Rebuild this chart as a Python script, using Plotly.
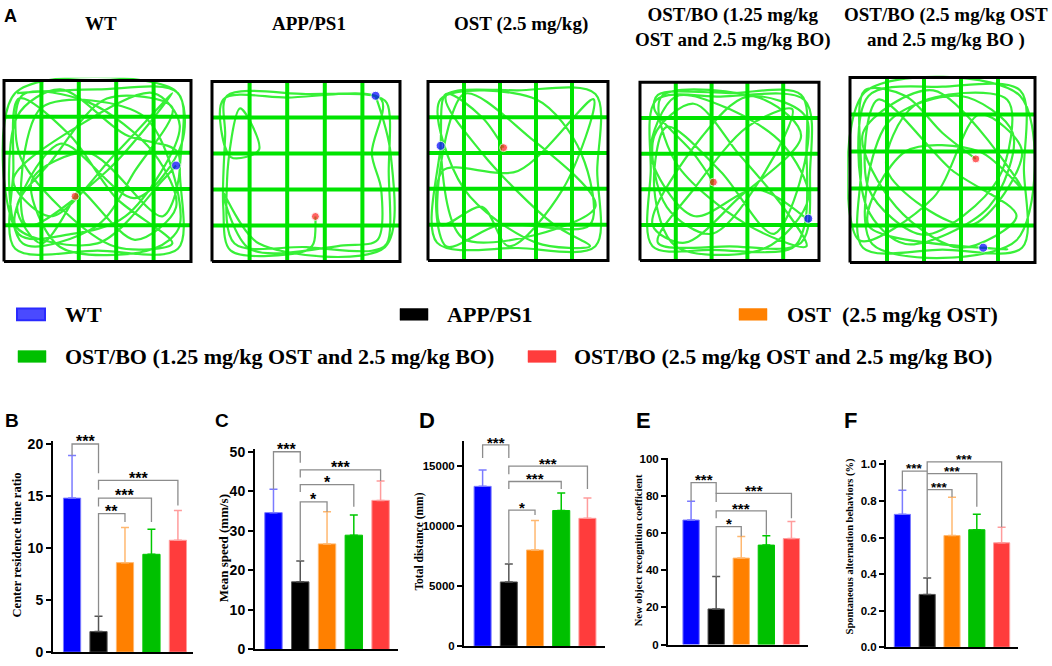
import plotly.graph_objects as go

W, H = 1052, 666

# groups (legend order) and maze titles
GROUPS = [
    "WT",
    "APP/PS1",
    "OST\u00a0 (2.5 mg/kg OST)",
    "OST/BO (1.25 mg/kg OST and 2.5 mg/kg BO)",
    "OST/BO (2.5 mg/kg OST and 2.5 mg/kg BO)",
]
MAZE_TITLES = [
    "WT",
    "APP/PS1",
    "OST (2.5 mg/kg)",
    "OST/BO (1.25 mg/kg<br>OST and 2.5 mg/kg BO)",
    "OST/BO (2.5 mg/kg OST<br>and 2.5 mg/kg BO )",
]

# B-F: mean and upper error (SD) per group
CENTER_TIME = [14.8, 1.97, 8.6, 9.4, 10.75]
CENTER_TIME_ERR = [4.1, 1.48, 3.37, 2.4, 2.85]
SPEED = [34.6, 17.1, 26.7, 28.9, 37.7]
SPEED_ERR = [5.9, 5.3, 8.1, 5.1, 4.9]
DISTANCE = [13315, 5353, 8016, 11304, 10652]
DISTANCE_ERR = [1359, 1495, 2446, 1468, 1685]
NOR = [67.1, 19.2, 46.6, 53.6, 57.1]
NOR_ERR = [10.1, 17.5, 11.7, 5.1, 9.2]
ALTERNATION = [0.727, 0.289, 0.611, 0.643, 0.571]
ALTERNATION_ERR = [0.132, 0.09, 0.21, 0.084, 0.086]

# significance brackets: (group i, group j, label)
COMPARISONS = [(0, 1), (1, 4), (1, 3), (1, 2)]
SIG_B = ["***", "***", "***", "**"]
SIG_C = ["***", "***", "*", "*"]
SIG_D = ["***", "***", "***", "*"]
SIG_E = ["***", "***", "***", "*"]
SIG_F = ["***", "***", "***", "***"]

# open-field tracks, fractions of the arena (x right, y up)
WT_TRACK = [(0.07, 0.93), (0.5, 0.95), (0.93, 0.93), (0.94, 0.5), (0.93, 0.07), (0.5, 0.06), (0.06, 0.07),
            (0.05, 0.5), (0.08, 0.9), (0.35, 0.7), (0.6, 0.35), (0.9, 0.1), (0.6, 0.08), (0.3, 0.3),
            (0.08, 0.6), (0.1, 0.92), (0.45, 0.88), (0.8, 0.6), (0.92, 0.3), (0.7, 0.12), (0.4, 0.4),
            (0.38, 0.36), (0.2, 0.1), (0.07, 0.3), (0.25, 0.55), (0.55, 0.9), (0.9, 0.85), (0.7, 0.5),
            (0.5, 0.2), (0.1, 0.1), (0.07, 0.8), (0.3, 0.95), (0.65, 0.7), (0.93, 0.6), (0.85, 0.25),
            (0.45, 0.6), (0.15, 0.45), (0.3, 0.08), (0.8, 0.07), (0.94, 0.2), (0.75, 0.8), (0.2, 0.85),
            (0.12, 0.2), (0.55, 0.5), (0.9, 0.93), (0.6, 0.6), (0.25, 0.25), (0.05, 0.45), (0.4, 0.75),
            (0.8, 0.93), (0.94, 0.75), (0.65, 0.25), (0.35, 0.15), (0.08, 0.15), (0.06, 0.93),
            (0.92, 0.94), (0.95, 0.65), (0.7, 0.35), (0.3, 0.65), (0.06, 0.2), (0.5, 0.1), (0.85, 0.45),
            (0.92, 0.53)]
APP_TRACK = [(0.55, 0.25), (0.54, 0.1), (0.5, 0.06), (0.1, 0.06), (0.06, 0.3), (0.07, 0.7), (0.08, 0.92),
             (0.5, 0.93), (0.86, 0.92), (0.93, 0.88), (0.94, 0.5), (0.93, 0.1), (0.85, 0.06), (0.5, 0.08),
             (0.12, 0.1), (0.08, 0.45), (0.15, 0.85), (0.25, 0.62), (0.1, 0.58), (0.06, 0.9), (0.4, 0.91),
             (0.9, 0.9), (0.85, 0.6), (0.9, 0.4), (0.88, 0.12), (0.7, 0.09), (0.2, 0.07), (0.06, 0.38),
             (0.25, 0.1), (0.92, 0.08), (0.95, 0.6), (0.87, 0.92)]
OST_TRACK = [(0.42, 0.63), (0.3, 0.8), (0.1, 0.93), (0.07, 0.64), (0.05, 0.1), (0.5, 0.07), (0.93, 0.08),
             (0.94, 0.5), (0.93, 0.93), (0.5, 0.95), (0.1, 0.92), (0.3, 0.6), (0.7, 0.2), (0.9, 0.08),
             (0.6, 0.1), (0.2, 0.4), (0.07, 0.9), (0.6, 0.9), (0.85, 0.6), (0.9, 0.2), (0.4, 0.2),
             (0.1, 0.08), (0.08, 0.5), (0.5, 0.5), (0.92, 0.9), (0.75, 0.4), (0.45, 0.08), (0.3, 0.3),
             (0.07, 0.2), (0.2, 0.93), (0.55, 0.7), (0.93, 0.3), (0.2, 0.12), (0.07, 0.64)]
BO1_TRACK = [(0.41, 0.44), (0.3, 0.6), (0.08, 0.85), (0.1, 0.93), (0.5, 0.94), (0.9, 0.93), (0.93, 0.6),
             (0.92, 0.2), (0.85, 0.07), (0.4, 0.06), (0.07, 0.08), (0.06, 0.5), (0.09, 0.9), (0.45, 0.92),
             (0.92, 0.9), (0.95, 0.5), (0.9, 0.1), (0.5, 0.08), (0.1, 0.1), (0.3, 0.4), (0.6, 0.75),
             (0.85, 0.85), (0.7, 0.5), (0.4, 0.15), (0.15, 0.3), (0.08, 0.7), (0.3, 0.88), (0.55, 0.6),
             (0.8, 0.3), (0.93, 0.08), (0.6, 0.2), (0.2, 0.55), (0.12, 0.92), (0.7, 0.9), (0.9, 0.7),
             (0.55, 0.35), (0.25, 0.1), (0.07, 0.2), (0.35, 0.7), (0.6, 0.92), (0.93, 0.8), (0.75, 0.15),
             (0.45, 0.5), (0.15, 0.75), (0.08, 0.4), (0.2, 0.08), (0.7, 0.07), (0.94, 0.35), (0.8, 0.65),
             (0.5, 0.85), (0.2, 0.92), (0.06, 0.6), (0.3, 0.25), (0.65, 0.4), (0.93, 0.235)]
BO2_TRACK = [(0.68, 0.56), (0.5, 0.7), (0.3, 0.9), (0.08, 0.93), (0.06, 0.5), (0.07, 0.08), (0.5, 0.07),
             (0.93, 0.08), (0.94, 0.5), (0.92, 0.93), (0.5, 0.95), (0.1, 0.9), (0.09, 0.3), (0.3, 0.1),
             (0.75, 0.3), (0.88, 0.7), (0.6, 0.9), (0.2, 0.75), (0.12, 0.1), (0.9, 0.12), (0.92, 0.9),
             (0.08, 0.92), (0.05, 0.12), (0.45, 0.35), (0.7, 0.8), (0.93, 0.6), (0.65, 0.2), (0.2, 0.5),
             (0.35, 0.85), (0.85, 0.88), (0.8, 0.45), (0.4, 0.15), (0.1, 0.4), (0.15, 0.88), (0.55, 0.5),
             (0.9, 0.25), (0.6, 0.08), (0.25, 0.3), (0.07, 0.7), (0.45, 0.93), (0.93, 0.4), (0.7, 0.6),
             (0.3, 0.6), (0.1, 0.2), (0.85, 0.07), (0.72, 0.08)]
TRACKS = [WT_TRACK, APP_TRACK, OST_TRACK, BO1_TRACK, BO2_TRACK]
RED_DOTS = [(0.38, 0.36), (0.55, 0.25), (0.42, 0.63), (0.41, 0.44), (0.68, 0.56)]
BLUE_DOTS = [(0.92, 0.53), (0.87, 0.92), (0.07, 0.64), (0.94, 0.235), (0.72, 0.08)]
GRID_FRACS = [0.2, 0.4, 0.6, 0.8]

BAR_COLORS = ["#0000ff", "#000000", "#ff8000", "#00c000", "#ff3c3c"]
ERR_COLORS = ["#7b7bff", "#555555", "#ffb870", "#00c800", "#ff9c9c"]
SERIF = "Liberation Serif"
SANS = "Liberation Sans"


def dom_x(a, b):
    return [max(a / W, 0.0), min(b / W, 1.0)]


def dom_y(top, bottom):
    return [max(1 - bottom / H, 0.0), min(1 - top / H, 1.0)]


def axis_names(n):
    return ("x" if n == 1 else f"x{n}", "y" if n == 1 else f"y{n}",
            "xaxis" if n == 1 else f"xaxis{n}", "yaxis" if n == 1 else f"yaxis{n}")


fig = go.Figure()
layout_axes = {}
annotations = []
shapes = []

# ---- panel A: open-field tracks ----
MAZE_BOX_PX = [(4, 191, 76, 261), (212, 400, 77, 261), (428, 608, 77, 260),
               (640, 819, 78, 260), (850, 1035, 73, 262)]
PAD = 0.015
for k, (x0, x1, y0, y1) in enumerate(MAZE_BOX_PX):
    n = k + 1
    xa, ya, xkey, ykey = axis_names(n)
    pw, ph = (x1 - x0) * PAD, (y1 - y0) * PAD
    layout_axes[xkey] = dict(domain=dom_x(x0 - pw, x1 + pw), range=[-PAD, 1 + PAD], visible=False,
                             anchor=ya)
    layout_axes[ykey] = dict(domain=dom_y(y0 - ph, y1 + ph), range=[-PAD, 1 + PAD], visible=False,
                             anchor=xa)
    track = TRACKS[k]
    fig.add_trace(go.Scatter(x=[p[0] for p in track], y=[p[1] for p in track], mode="lines",
                             line=dict(color="#38f038", width=2.2, shape="spline", smoothing=0.9),
                             xaxis=xa, yaxis=ya, hoverinfo="skip", showlegend=False))
    gx, gy = [], []
    for f in GRID_FRACS:
        gx += [f, f, None, 0, 1, None]
        gy += [0, 1, None, f, f, None]
    fig.add_trace(go.Scatter(x=gx, y=gy, mode="lines", line=dict(color="#00e400", width=4),
                             xaxis=xa, yaxis=ya, hoverinfo="skip", showlegend=False))
    fig.add_trace(go.Scatter(x=[0, 1, 1, 0, 0], y=[0, 0, 1, 1, 0], mode="lines",
                             line=dict(color="black", width=3), xaxis=xa, yaxis=ya,
                             hoverinfo="skip", showlegend=False))
    fig.add_trace(go.Scatter(x=[RED_DOTS[k][0], BLUE_DOTS[k][0]], y=[RED_DOTS[k][1], BLUE_DOTS[k][1]],
                             mode="markers", marker=dict(color=["#ff2020", "#0000ff"], size=[8, 9]),
                             xaxis=xa, yaxis=ya, hoverinfo="skip", showlegend=False))
    title_y = 18 if "<br>" not in MAZE_TITLES[k] else 22
    annotations.append(dict(text=f"<b>{MAZE_TITLES[k]}</b>", x=(x0 + x1) / 2 / W + 0.003,
                            y=1 - title_y / H, xref="paper", yref="paper", showarrow=False,
                            xanchor="center", yanchor="middle",
                            font=dict(family=SERIF, size=19, color="black")))

# ---- legend ----
LEGEND_POS = [(17, 63, 315), (400, 445, 315), (739, 785, 315), (18, 63, 358), (528, 572, 358)]
for k, (sx, tx, cy) in enumerate(LEGEND_POS):
    fill = "#4a4aff" if k == 0 else BAR_COLORS[k]
    edge = "#2a2aff" if k == 0 else BAR_COLORS[k]
    shapes.append(dict(type="rect", xref="paper", yref="paper", x0=sx / W, x1=(sx + 28) / W,
                       y0=1 - (cy + 6) / H, y1=1 - (cy - 6) / H, fillcolor=fill,
                       line=dict(color=edge, width=2 if k == 0 else 0.5)))
    annotations.append(dict(text=f"<b>{GROUPS[k]}</b>", x=tx / W, y=1 - cy / H, xref="paper",
                            yref="paper", showarrow=False, xanchor="left", yanchor="middle",
                            font=dict(family=SERIF, size=22, color="black")))

# ---- panels B-F ----
PANELS = [
    dict(vals=CENTER_TIME, err=CENTER_TIME_ERR, sig=SIG_B, x_px=(53, 193), xr=(-0.72, 4.57),
         zero=660.0, scale=10.63, ymax=20.25, tick=5, tickfmt="{:.0f}", tsize=14, star=16,
         title="Center residence time ratio", title_xy=(17, 551), tfont=12.5,
         brackets=[(20.0, 18.9, 17.2), (16.5, 15.6, 14.1), (14.8, 14.0, 12.5), (13.3, 3.45, 12.5)]),
    dict(vals=SPEED, err=SPEED_ERR, sig=SIG_C, x_px=(255, 398), xr=(-0.69, 4.65),
         zero=657.3, scale=4.04, ymax=50.6, tick=10, tickfmt="{:.0f}", tsize=14, star=16,
         title="Mean speed (mm/s)", title_xy=(223, 554), tfont=13,
         brackets=[(50.0, 40.5, 47.2), (45.4, 43.5, 42.6), (41.7, 39.8, 36.1), (37.3, 22.4, 34.8)]),
    dict(vals=DISTANCE, err=DISTANCE_ERR, sig=SIG_D, x_px=(464, 605), xr=(-0.71, 4.67),
         zero=654.0, scale=0.012267, ymax=17100, tick=5000, tickfmt="{:.0f}", tsize=11.5, star=15,
         title="Total distance (mm)", title_xy=(420, 547), tfont=11.5,
         brackets=[(16770, 15680, 15680), (15000, 14320, 13100), (13720, 13100, 13100),
                   (11330, 6850, 10920)]),
    dict(vals=NOR, err=NOR_ERR, sig=SIG_E, x_px=(668, 808), xr=(-0.92, 4.66),
         zero=652.3, scale=1.896, ymax=100.5, tick=20, tickfmt="{:.0f}", tsize=11.5, star=15,
         title="New object recognition coefficient", title_xy=(638, 556), tfont=10.5,
         brackets=[(87.3, 77.2, 81.2), (81.5, 76.8, 68.0), (72.0, 68.0, 59.2), (63.6, 36.7, 58.3)]),
    dict(vals=ALTERNATION, err=ALTERNATION_ERR, sig=SIG_F, x_px=(886, 1018), xr=(-0.66, 4.66),
         zero=655.0, scale=186.7, ymax=1.025, tick=0.2, tickfmt="{:.1f}", tsize=11.5, star=13.5,
         title="Spontaneous alternation behaviors (%)", title_xy=(850, 552), tfont=10.5,
         brackets=[(0.964, 0.859, 0.964), (1.014, 0.379, 0.657), (0.95, 0.95, 0.768),
                   (0.862, 0.862, 0.821)]),
]
LETTERS = [("A", 2, 10, 18), ("B", 3, 423, 19), ("C", 213, 423, 19), ("D", 417, 423, 22),
           ("E", 634, 423, 22), ("F", 842, 423, 22)]

for p_i, p in enumerate(PANELS):
    n = 6 + p_i
    xa, ya, xkey, ykey = axis_names(n)
    top_px = p["zero"] - p["ymax"] * p["scale"]
    layout_axes[xkey] = dict(domain=dom_x(*p["x_px"]), range=list(p["xr"]), anchor=ya,
                             showline=True, linecolor="black", linewidth=2, showticklabels=False,
                             ticks="", showgrid=False, zeroline=False)
    ticks = []
    v = 0.0
    while v <= p["ymax"] + 1e-9:
        ticks.append(round(v, 4))
        v += p["tick"]
    layout_axes[ykey] = dict(domain=dom_y(top_px, p["zero"]), range=[0, p["ymax"]], anchor=xa,
                             showline=True, linecolor="black", linewidth=2, ticks="outside",
                             ticklen=5, tickwidth=2, tickcolor="black", tickvals=ticks,
                             ticktext=[f"<b>{p['tickfmt'].format(t)}</b>" for t in ticks],
                             showgrid=False, zeroline=False,
                             tickfont=dict(family=SANS, size=p["tsize"], color="black"))
    for g in range(5):
        fig.add_trace(go.Bar(x=[g], y=[p["vals"][g]], width=0.65, xaxis=xa, yaxis=ya,
                             marker=dict(color=BAR_COLORS[g], line=dict(color=ERR_COLORS[g], width=1)),
                             error_y=dict(type="data", array=[p["err"][g]], symmetric=False,
                                          arrayminus=[0], color=ERR_COLORS[g], thickness=1.5,
                                          width=4),
                             hoverinfo="skip", showlegend=False))
    for (i, j), (top, lb, rb), label in zip(COMPARISONS, p["brackets"], p["sig"]):
        fig.add_trace(go.Scatter(x=[i, i, j, j], y=[lb, top, top, rb], mode="lines",
                                 line=dict(color="#8c8c8c", width=1.3), xaxis=xa, yaxis=ya,
                                 hoverinfo="skip", showlegend=False))
        annotations.append(dict(text=f"<b>{label}</b>", x=(i + j) / 2, y=top, xref=xa, yref=ya,
                                showarrow=False, xanchor="center", yanchor="bottom",
                                yshift=-0.45 * p["star"], borderpad=0,
                                font=dict(family=SANS, size=p["star"], color="black")))
    tx, ty = p["title_xy"]
    annotations.append(dict(text=f"<b>{p['title']}</b>", x=tx / W, y=1 - ty / H, xref="paper",
                            yref="paper", textangle=-90, showarrow=False, xanchor="center",
                            yanchor="middle", font=dict(family=SERIF, size=p["tfont"], color="black")))

for letter, lx, ly, size in LETTERS:
    annotations.append(dict(text=f"<b>{letter}</b>", x=lx / W, y=1 - ly / H, xref="paper",
                            yref="paper", showarrow=False, xanchor="left", yanchor="middle",
                            font=dict(family=SANS, size=size, color="black")))

fig.update_layout(width=W, height=H, margin=dict(l=0, r=0, t=0, b=0), autosize=False,
                  paper_bgcolor="white", plot_bgcolor="white", barmode="overlay",
                  showlegend=False, annotations=annotations, shapes=shapes, **layout_axes)

fig.write_html("out.html", config={"displayModeBar": False},
               post_script="document.body.style.margin='0px';")
